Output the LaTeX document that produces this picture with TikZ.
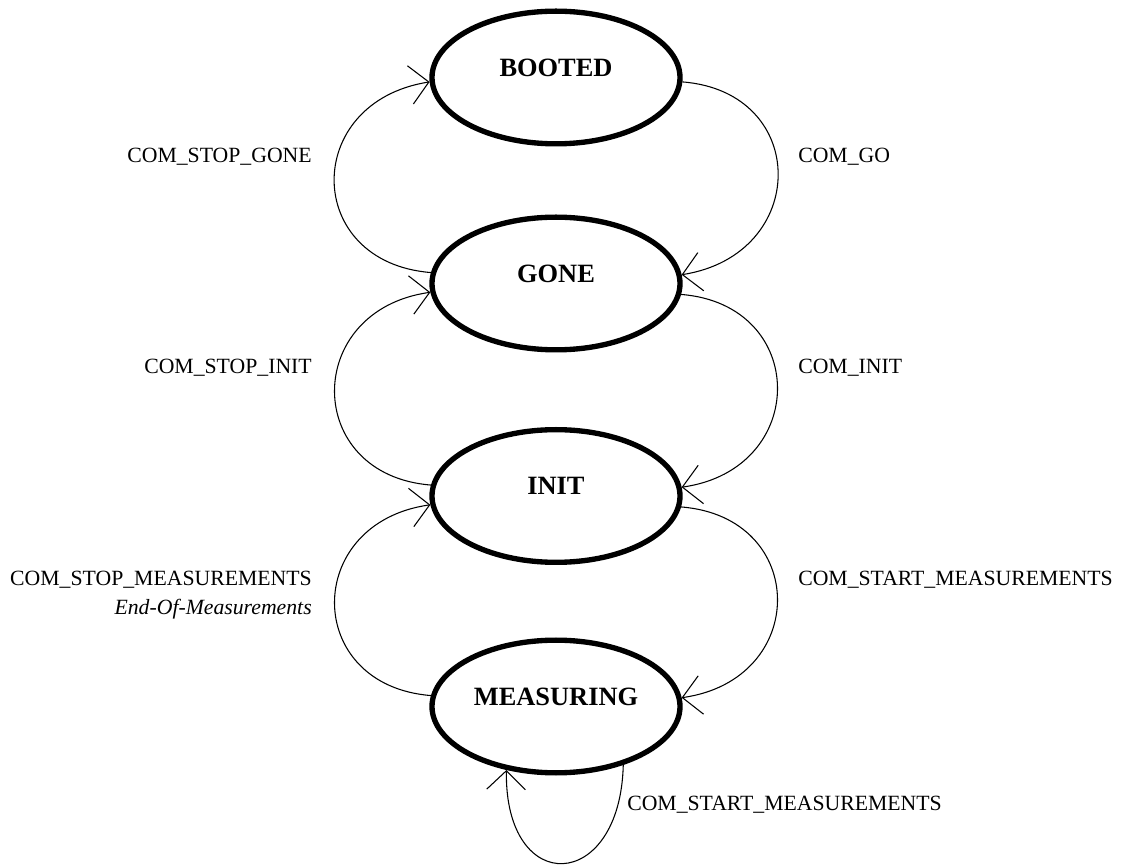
\documentclass[tikz,border=0pt]{standalone}
\usepackage{fontspec}
\setmainfont{Liberation Serif}
\usetikzlibrary{arrows.meta,shapes.geometric}

\begin{document}
\begin{tikzpicture}[x=0.75pt,y=0.75pt,
  state/.style={draw, ellipse, line width=4pt,
    minimum width=186pt, minimum height=99.5pt, inner sep=0pt,
    font=\fontsize{19.8}{24}\selectfont\bfseries,
    text height=13.2pt, text depth=15pt},
  trans/.style={line width=0.8pt, -{Straight Barb[length=14pt,width=29pt]}},
  plain/.style={line width=0.8pt},
  lab/.style={font=\fontsize{16.3}{21.75}\selectfont, inner sep=0pt}]
\useasboundingbox (0,0) rectangle (1122,865);

% states
\node[state] (booted) at (556,787.5) {BOOTED};
\node[state] (gone)   at (556,581.5) {GONE};
\node[state] (init)   at (556,369)   {INIT};
\node[state] (meas)   at (556,158.5) {MEASURING};

% transitions on the left (stepping back up)
\draw[trans] (gone.175.5) .. controls +(-128,10) and +(-128,-20) .. (booted.182);
\draw[trans] (init.175.5) .. controls +(-128,10) and +(-128,-18) .. (gone.184.5);
\draw[trans] (meas.175.5) .. controls +(-128,10) and +(-128,-18) .. (init.184.5);

% transitions on the right (stepping down)
\draw[trans] (booted.358) .. controls +(128,-10) and +(128,20) .. (gone.4.5);
\draw[trans] (gone.355.5) .. controls +(128,-10) and +(128,18) .. (init.4.5);
\draw[trans] (init.355.5) .. controls +(128,-10) and +(128,18) .. (meas.4.5);

% self loop on MEASURING
\draw[trans] (meas.319) .. controls +(-3,-128) and +(-2,-128) .. (meas.232);

% transition labels
\node[lab, anchor=base east] (lstopgone) at (312,702) {COM\_STOP\_GONE};
\node[lab, anchor=base east] (lstopinit) at (312,491) {COM\_STOP\_INIT};
\node[lab, anchor=base east] (lstopmeas) at (312,250)
  {\begin{tabular}[b]{@{}r@{}}COM\_STOP\_MEASUREMENTS\\\textit{End-Of-Measurements}\end{tabular}};
\node[lab, anchor=base west] (lgo)    at (798,702) {COM\_GO};
\node[lab, anchor=base west] (lcinit) at (798,491) {COM\_INIT};
\node[lab, anchor=base west] (lstart) at (798,279) {COM\_START\_MEASUREMENTS};
\node[lab, anchor=base west] (lloop)  at (627,55)  {COM\_START\_MEASUREMENTS};
\end{tikzpicture}
\end{document}
